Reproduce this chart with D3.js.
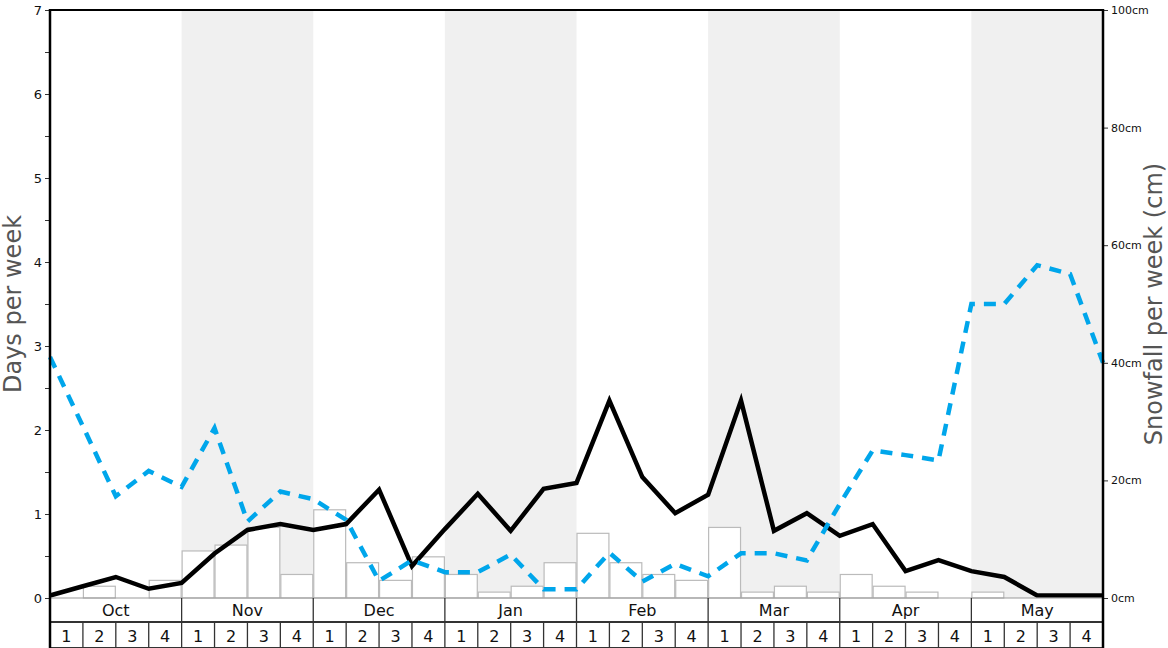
<!DOCTYPE html>
<html><head><meta charset="utf-8">
<script src="https://cdn.jsdelivr.net/npm/d3@7"></script>
<style>body{margin:0;background:#fff;font-family:"DejaVu Sans",sans-serif}</style>
</head><body><svg id="c" width="1168" height="648"></svg>
<script>
const months = ["Oct","Nov","Dec","Jan","Feb","Mar","Apr","May"];
const weekLabels = ["1","2","3","4"];
// weekly snowfall (cm), one per week
const snowfallBars = [0,2,0,3, 8,9,12,4, 15,6,3,7, 4,1,2,6, 11,6,4,3, 12,1,2,1, 4,2,1,0, 1,0,0,0];
// days per week (black line), 33 points at week boundaries
const snowDays = [0.03,0.14,0.25,0.11,0.18,0.53,0.81,0.88,0.81,0.88,1.29,0.38,0.82,1.24,0.80,1.30,1.37,2.35,1.44,1.01,1.23,2.35,0.80,1.01,0.74,0.88,0.32,0.45,0.32,0.25,0.03,0.03,0.03];
// snowfall (cm) dashed blue line, 33 points
const snowCm = [41,29.2,17.3,21.6,18.9,28.9,13,18.1,16.8,13.3,2.9,6.4,4.4,4.4,7.4,1.5,1.5,7.7,2.8,5.8,3.7,7.6,7.6,6.4,16,25.1,24.3,23.4,50,50,56.6,55.1,40];
const leftTicks = d3.range(0,7.01,0.5);
const rightTicks = [0,20,40,60,80,100];

const svg = d3.select("#c");
const L=50,R=1103,T=10,B=598;
const nW = months.length*4;
const x = d3.scaleLinear().domain([0,nW]).range([L,R]);
const yL = d3.scaleLinear().domain([0,7]).range([B,T]);
const yR = d3.scaleLinear().domain([0,100]).range([B,T]);

// shaded months
svg.append("g").selectAll("rect").data(months).join("rect")
  .attr("x",(d,i)=>x(i*4)).attr("y",T).attr("width",x(4)-x(0)).attr("height",B-T)
  .attr("fill",(d,i)=>i%2?"#f0f0f0":"none");

// bars
const barData = snowfallBars.map((v,i)=>({v,i})).filter(d=>d.v>0);
svg.append("g").selectAll("rect").data(barData).join("rect")
  .attr("x",d=>x(d.i)+0.5).attr("y",d=>yR(d.v))
  .attr("width",d=>x(d.i+1)-x(d.i)-1).attr("height",d=>B-yR(d.v))
  .attr("fill","#fff").attr("stroke","#bbb").attr("stroke-width",1.2);

// lines
const line = (ys)=>d3.line().x((d,i)=>x(i)).y(d=>ys(d));
svg.append("path").datum(snowDays).attr("d",line(yL)).attr("fill","none")
  .attr("stroke","#000").attr("stroke-width",4.5).attr("stroke-linejoin","miter");
svg.append("path").datum(snowCm).attr("d",line(yR)).attr("fill","none")
  .attr("stroke","#00a6eb").attr("stroke-width",4.5).attr("stroke-dasharray","12,9");

// top border
svg.append("line").attr("x1",L).attr("x2",R).attr("y1",T).attr("y2",T).attr("stroke","#000").attr("stroke-width",2);

// bottom month / week rows
const mg = svg.append("g");
mg.append("line").attr("x1",L).attr("x2",R).attr("y1",B).attr("y2",B).attr("stroke","#999").attr("stroke-width",1);
mg.append("line").attr("x1",L).attr("x2",R).attr("y1",622).attr("y2",622).attr("stroke","#333").attr("stroke-width",2);
mg.append("line").attr("x1",L).attr("x2",R).attr("y1",648).attr("y2",648).attr("stroke","#333").attr("stroke-width",2);
months.forEach((m,i)=>{
  if(i>0) mg.append("line").attr("x1",x(i*4)).attr("x2",x(i*4)).attr("y1",B).attr("y2",622).attr("stroke","#333").attr("stroke-width",1.3);
  mg.append("text").attr("x",(x(i*4)+x(i*4+4))/2).attr("y",616).attr("text-anchor","middle")
    .attr("font-size",16).attr("fill","#111").text(m);
  weekLabels.forEach((w,j)=>{
    const k=i*4+j;
    if(k>0) mg.append("line").attr("x1",x(k)).attr("x2",x(k)).attr("y1",622).attr("y2",648).attr("stroke","#333").attr("stroke-width",1.3);
    mg.append("text").attr("x",(x(k)+x(k+1))/2).attr("y",642).attr("text-anchor","middle")
      .attr("font-size",16).attr("fill","#111").text(w);
  });
});

// left axis
const la = svg.append("g").attr("transform",`translate(${L},0)`)
  .call(d3.axisLeft(yL).tickValues(leftTicks).tickSize(5).tickFormat(d=>Number.isInteger(d)?d:""));
la.select(".domain").remove();
la.selectAll("text").attr("font-size",13).attr("font-family","DejaVu Sans").attr("fill","#111");
la.selectAll("line").attr("stroke","#333");
svg.append("line").attr("x1",L).attr("x2",L).attr("y1",T-1).attr("y2",648).attr("stroke","#000").attr("stroke-width",2.5);

// right axis
const ra = svg.append("g").attr("transform",`translate(${R},0)`)
  .call(d3.axisRight(yR).tickValues(rightTicks).tickSize(5).tickFormat(d=>d+"cm"));
ra.select(".domain").remove();
ra.selectAll("text").attr("font-size",11).attr("font-family","DejaVu Sans").attr("fill","#111");
ra.selectAll("line").attr("stroke","#333");
svg.append("line").attr("x1",R).attr("x2",R).attr("y1",T-1).attr("y2",648).attr("stroke","#000").attr("stroke-width",2.5);

// titles
svg.append("text").attr("transform","translate(21,304) rotate(-90)").attr("text-anchor","middle")
  .attr("font-size",24).attr("fill","#555").text("Days per week");
svg.append("text").attr("transform","translate(1162,304) rotate(-90)").attr("text-anchor","middle")
  .attr("font-size",24).attr("fill","#555").text("Snowfall per week (cm)");
</script></body></html>
